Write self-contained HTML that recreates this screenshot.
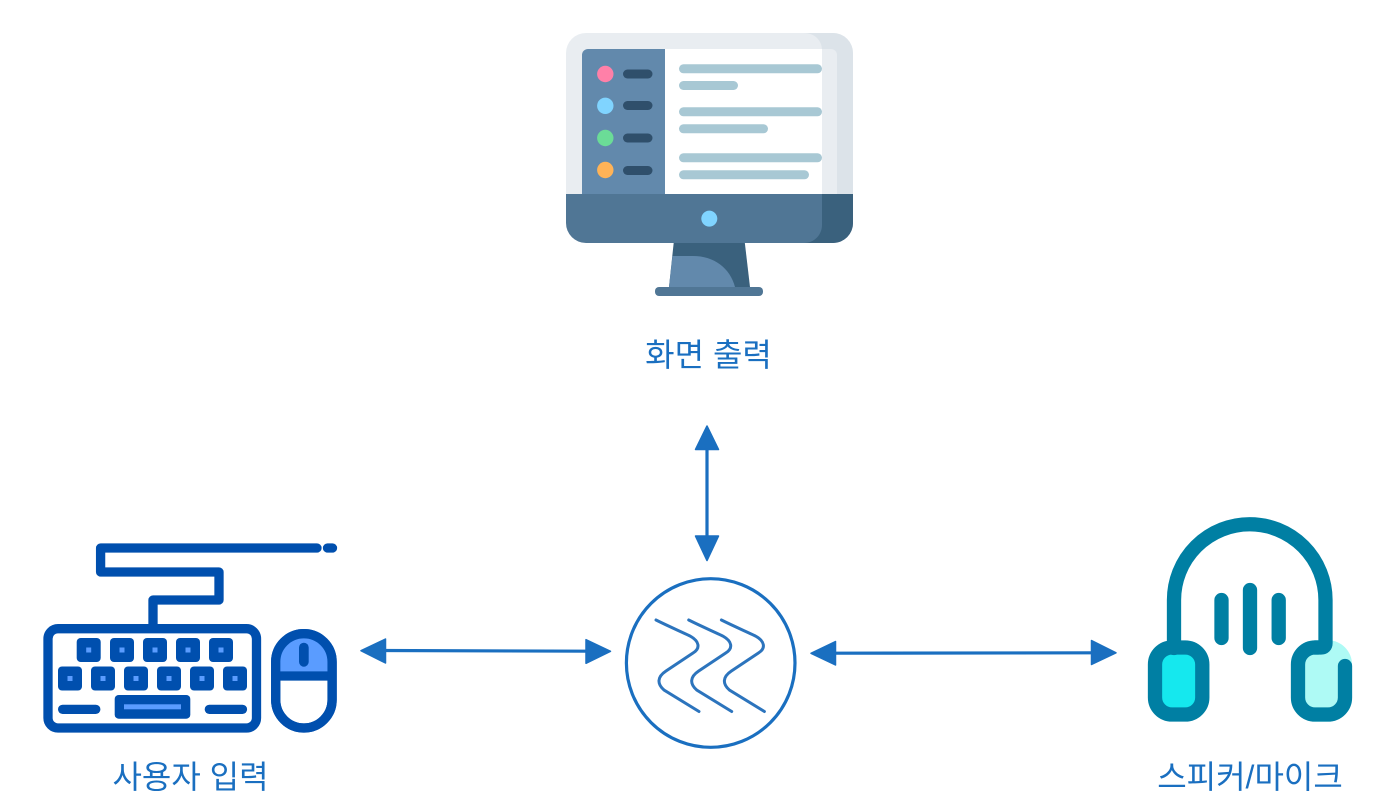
<!DOCTYPE html>
<html lang="ko"><head><meta charset="utf-8"><style>
html,body{margin:0;padding:0;background:#fff}
svg{display:block}
text{font-family:"Liberation Sans","Noto Sans CJK KR",sans-serif;font-size:32px;fill:#1a6fc0;text-anchor:middle}
</style></head><body>
<svg width="1400" height="808" viewBox="0 0 1400 808" xmlns="http://www.w3.org/2000/svg">
<rect width="1400" height="808" fill="#fff"/>
<!-- Monitor -->
<path d="M669 287L674 240H744.5L750 287Z" fill="#3a617d"/>
<path d="M669 287L672.5 256H693C714 256 730 268 735 287Z" fill="#6289ac"/>
<rect x="655" y="287" width="108" height="9" rx="4" fill="#507695"/>
<path d="M566 196V53A20 20 0 0 1 586 33H833A20 20 0 0 1 853 53V196Z" fill="#e9edf1"/>
<path d="M804 33H833A20 20 0 0 1 853 53V196H822V50C822 40 814 33 804 33Z" fill="#dce3e9"/>
<path d="M582 196V55A6 6 0 0 1 588 49H665V196Z" fill="#6289ac"/>
<rect x="665" y="49" width="157" height="147" fill="#fff"/>
<path d="M822 49H831A6 6 0 0 1 837 55V196H822Z" fill="#e9edf1"/>
<path d="M566 194H853V223A20 20 0 0 1 833 243H586A20 20 0 0 1 566 223Z" fill="#507695"/>
<path d="M822 194H853V223A20 20 0 0 1 833 243H804C814 243 822 235 822 225Z" fill="#3a617d"/>
<circle cx="709.3" cy="218.6" r="8" fill="#80d4ff"/>
<circle cx="605.3" cy="74" r="8.2" fill="#ff80a8"/>
<circle cx="605.3" cy="105.8" r="8.2" fill="#80d4ff"/>
<circle cx="605.3" cy="138" r="8.2" fill="#6bdc97"/>
<circle cx="605.3" cy="170" r="8.2" fill="#ffb357"/>
<g fill="#2f4f6b">
<rect x="623" y="69.5" width="29.5" height="9" rx="4.5"/>
<rect x="623" y="101" width="29.5" height="9" rx="4.5"/>
<rect x="623" y="133.5" width="29.5" height="9" rx="4.5"/>
<rect x="623" y="166" width="29.5" height="9" rx="4.5"/>
</g>
<g fill="#a8c8d4">
<rect x="679" y="64.3" width="143" height="9" rx="4.5"/>
<rect x="679" y="81" width="59" height="9" rx="4.5"/>
<rect x="679" y="107.3" width="143" height="9" rx="4.5"/>
<rect x="679" y="124.3" width="89" height="9" rx="4.5"/>
<rect x="679" y="153.3" width="143" height="9" rx="4.5"/>
<rect x="679" y="170.3" width="130" height="9" rx="4.5"/>
</g>
<text x="708.5" y="366">화면 출력</text>
<!-- Arrows -->
<g stroke="#1a6fc0" stroke-width="3.2" fill="none">
<path d="M707 445V540"/>
<path d="M380 650.5L590 651.2"/>
<path d="M830 653.2L1096 652.8"/>
</g>
<g fill="#1a6fc0" stroke="#1a6fc0" stroke-width="1.5" stroke-linejoin="round">
<path d="M707 426L695.5 449.5H718.5Z"/>
<path d="M707 560.5L695.5 536H718.5Z"/>
<path d="M361 650.7L385.5 639V663Z"/>
<path d="M610.5 651.3L586 639.7V663.3Z"/>
<path d="M811 653.3L835.5 641.5V665Z"/>
<path d="M1116 652.8L1091.5 640.5V664.5Z"/>
</g>
<!-- Central -->
<circle cx="710.7" cy="663" r="84.3" fill="#fff" stroke="#1a6fc0" stroke-width="3.2"/>
<g fill="none" stroke="#2c74bd" stroke-width="3" stroke-linecap="round">
<path d="M656 620C670 627 682 632 690 636C699 641 701 648 693 653L666 671C657 677 657 684 664 690L699 711.5"/>
<path d="M656 620C670 627 682 632 690 636C699 641 701 648 693 653L666 671C657 677 657 684 664 690L699 711.5" transform="translate(32.7 0)"/>
<path d="M656 620C670 627 682 632 690 636C699 641 701 648 693 653L666 671C657 677 657 684 664 690L699 711.5" transform="translate(65.4 0)"/>
</g>
<!-- Keyboard -->
<g fill="none" stroke="#004fae" stroke-width="9.3" stroke-linejoin="round" stroke-linecap="round">
<path d="M317 548H100.6V572H219V600H153V626" />
<path d="M327.5 548H332.5"/>
<rect x="48" y="628.7" width="208.5" height="99.3" rx="10" fill="#fff"/>
<rect x="275.7" y="633.7" width="56.4" height="94.3" rx="28.2" fill="#fff"/>
<path d="M275.7 676V661.9A28.2 28.2 0 0 1 332.1 661.9V676Z" fill="#5a9cff" stroke="none"/>
<path d="M275.7 676H332.1" stroke-linecap="butt"/>
<rect x="275.7" y="633.7" width="56.4" height="94.3" rx="28.2"/>
</g>
<rect x="299" y="642.7" width="9.7" height="24" rx="4.8" fill="#004fae"/>
<g fill="#004fae">
<rect x="76.7" y="638" width="24" height="24" rx="4"/><rect x="110" y="638" width="24" height="24" rx="4"/><rect x="143" y="638" width="24" height="24" rx="4"/><rect x="176" y="638" width="24" height="24" rx="4"/><rect x="209" y="638" width="24" height="24" rx="4"/>
<rect x="58" y="666.5" width="24" height="24" rx="4"/><rect x="91" y="666.5" width="24" height="24" rx="4"/><rect x="124" y="666.5" width="24" height="24" rx="4"/><rect x="157" y="666.5" width="24" height="24" rx="4"/><rect x="190" y="666.5" width="24" height="24" rx="4"/><rect x="223" y="666.5" width="24" height="24" rx="4"/>
<rect x="114.7" y="695" width="75.6" height="23.7" rx="4"/>
<rect x="58" y="704.7" width="42.4" height="9.3" rx="4.6"/>
<rect x="204.7" y="704.7" width="42.4" height="9.3" rx="4.6"/>
</g>
<g fill="#5a9cff">
<rect x="86.2" y="647.5" width="5" height="5"/><rect x="119.5" y="647.5" width="5" height="5"/><rect x="152.5" y="647.5" width="5" height="5"/><rect x="185.5" y="647.5" width="5" height="5"/><rect x="218.5" y="647.5" width="5" height="5"/>
<rect x="67.5" y="676" width="5" height="5"/><rect x="100.5" y="676" width="5" height="5"/><rect x="133.5" y="676" width="5" height="5"/><rect x="166.5" y="676" width="5" height="5"/><rect x="199.5" y="676" width="5" height="5"/><rect x="232.5" y="676" width="5" height="5"/>
<rect x="124" y="704.3" width="57" height="5"/>
</g>
<text x="190.5" y="788">사용자 입력</text>
<!-- Headphones -->
<rect x="1291" y="640.3" width="61" height="81.4" rx="24" fill="#aefaf5"/>
<rect x="1155" y="647.5" width="47.3" height="67" rx="17" fill="#15e8ee"/>
<g fill="none" stroke="#007fa3" stroke-width="14.3" stroke-linecap="round" stroke-linejoin="round">
<path d="M1174 648V600A75.7 75.7 0 0 1 1325.5 600V643C1325.5 646 1324 647.5 1321 647.5H1315"/>
<rect x="1155" y="647.5" width="47.3" height="67" rx="17"/>
<path d="M1318 647.5H1315A17 17 0 0 0 1298 664.5V697.5A17 17 0 0 0 1315 714.5H1328A17 17 0 0 0 1345 697.5V666"/>
<path d="M1221.5 600V638"/><path d="M1250 590V648"/><path d="M1278.7 600V638"/>
</g>
<text x="1250" y="788">스피커/마이크</text>
</svg>
</body></html>
